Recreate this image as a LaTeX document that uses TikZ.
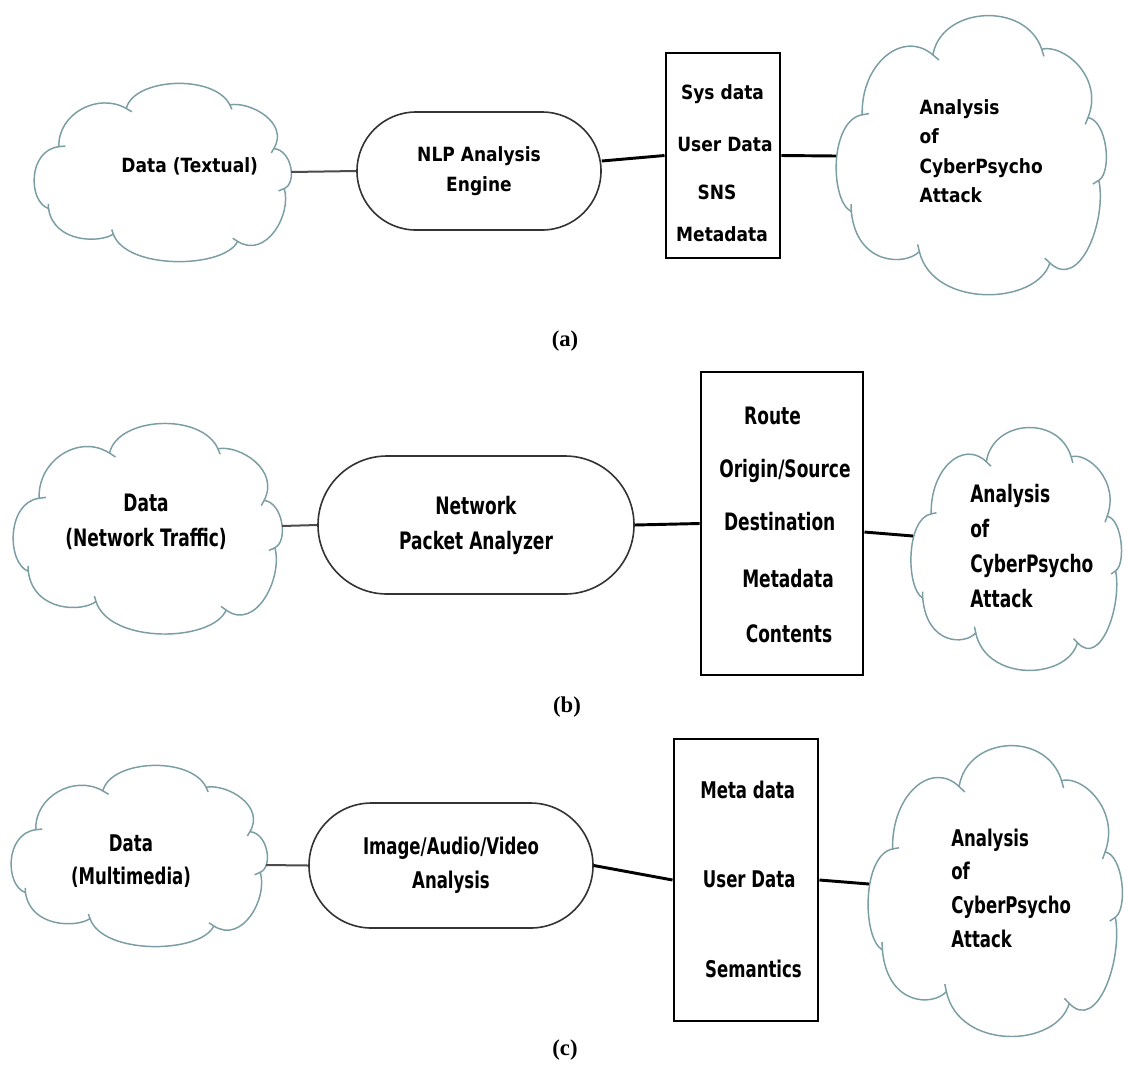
\documentclass[tikz,border=0pt]{standalone}
\usepackage{fontspec}
\setmainfont{DejaVu Sans}
\newfontfamily\fontpa{DejaVu Sans}[FakeStretch=0.87]
\newfontfamily\fontpb{DejaVu Sans}[FakeStretch=0.71]
\newfontfamily\fontpc{DejaVu Sans}[FakeStretch=0.72]
\newfontfamily\capfont{Liberation Serif}
\usetikzlibrary{shapes.misc}
\definecolor{cloudcol}{RGB}{122,158,163}
\tikzset{
  cloudline/.style={draw=cloudcol, line width=1.1pt, line join=round},
  stadbox/.style={rounded rectangle, draw=black!80, line width=1.2pt, inner sep=0pt, align=center},
  listbox/.style={rectangle, draw=black, line width=2.2pt, inner sep=0pt},
  thinlink/.style={draw=black!70, line width=1.5pt},
  thicklink/.style={draw=black, line width=2.2pt},
  ta/.style={font=\fontpa\bfseries\fontsize{14.7pt}{22.1pt}\selectfont, inner sep=0pt},
  tb/.style={font=\fontpb\bfseries\fontsize{18pt}{26.25pt}\selectfont, inner sep=0pt},
  tc/.style={font=\fontpc\bfseries\fontsize{17.25pt}{25.2pt}\selectfont, inner sep=0pt},
  capt/.style={font=\capfont\bfseries\fontsize{17pt}{20pt}\selectfont, inner sep=0pt}
}
% cloud outline: #1,#2 = top-left corner (px), #3,#4 = width, height (px)
\newcommand\cloudoutline[4]{%
  \begin{scope}[shift={(#1,#2)}]
  \begin{scope}[x=#3*0.75pt, y=-#4*0.75pt]
    \draw[cloudline] (0.10,0.35)
      .. controls (0.095,0.17) and (0.25,0.05) .. (0.36,0.14)
      .. controls (0.39,-0.03) and (0.70,-0.05) .. (0.76,0.12)
      .. controls (0.84,0.10) and (0.99,0.22) .. (0.93,0.36)
      .. controls (1.0,0.37) and (1.02,0.55) .. (0.97,0.58)
      .. controls (1.0,0.72) and (0.90,0.97) .. (0.79,0.87)
      .. controls (0.74,1.02) and (0.36,1.03) .. (0.31,0.83)
      .. controls (0.26,0.88) and (0.08,0.88) .. (0.06,0.69)
      .. controls (-0.02,0.65) and (-0.02,0.37) .. cycle;
    \draw[cloudline]
      (0.36,0.14) -- ++(0.022,0.018)
      (0.76,0.12) -- ++(0.008,0.025)
      (0.93,0.36) -- ++(-0.010,0.024)
      (0.97,0.58) -- ++(-0.022,0.013)
      (0.79,0.87) -- ++(-0.019,-0.017)
      (0.31,0.83) -- ++(-0.006,-0.025)
      (0.06,0.69) -- ++(-0.001,-0.026)
      (0.10,0.35) -- ++(0.025,-0.004);
  \end{scope}
  \end{scope}}
\begin{document}
\begin{tikzpicture}[x=0.75pt, y=-0.75pt]
\fill[white] (0,0) rectangle (1124,1086);
\useasboundingbox (0,0) rectangle (1124,1086);

% ================= (a) =================
\cloudoutline{33}{83}{259}{182}
\node[ta, anchor=base] (cA1) at (189.7,172.7) {Data (Textual)};
\node[stadbox, ta, minimum width=183pt, minimum height=88.5pt] (nlpA) at (479,171) {NLP Analysis\\Engine};
\node[listbox, minimum width=85.5pt, minimum height=153.75pt] (rectA) at (723,155.5) {};
\node[ta, anchor=base] (la1) at (722.5,99.3) {Sys data};
\node[ta, anchor=base] (la2) at (725,151.7) {User Data};
\node[ta, anchor=base] (la3) at (717,199.3) {SNS};
\node[ta, anchor=base] (la4) at (722,241.7) {Metadata};
\cloudoutline{835}{15}{272}{285}
\node[ta, anchor=north west, align=left] (cA2) at (919.3,99.1) {Analysis\\of\\CyberPsycho\\Attack};
\coordinate (cA1e) at (291,172);
\coordinate (cA2w) at (836,156);
\draw[thinlink] (cA1e) -- (nlpA.west);
\draw[thicklink] ([yshift=7.5pt]nlpA.east) -- (rectA.west);
\draw[thicklink] (rectA.east) -- (cA2w);
\node[capt] (capa) at (565,341) {(a)};

% ================= (b) =================
\cloudoutline{12}{423}{271}{215}
\node[tb, anchor=north, align=center] (cB1) at (146,494.2) {Data\\(Network Traffic)};
\node[stadbox, tb, minimum width=237pt, minimum height=103.5pt] (nlpB) at (476,525) {Network\\Packet Analyzer};
\node[listbox, minimum width=121.5pt, minimum height=227.25pt] (rectB) at (782,523.5) {};
\node[tb, anchor=base] (lb1) at (772.5,424) {Route};
\node[tb, anchor=base] (lb2) at (785,477.3) {Origin/Source};
\node[tb, anchor=base] (lb3) at (779.7,530) {Destination};
\node[tb, anchor=base] (lb4) at (788,587.3) {Metadata};
\node[tb, anchor=base] (lb5) at (789,642.7) {Contents};
\cloudoutline{910}{427}{212}{248}
\node[tb, anchor=north west, align=left] (cB2) at (970,483.5) {Analysis\\of\\CyberPsycho\\Attack};
\coordinate (cB1e) at (282,526);
\coordinate (cB2w) at (913,536);
\draw[thinlink] (cB1e) -- (nlpB.west);
\draw[thicklink] (nlpB.east) -- (rectB.west);
\draw[thicklink] ([yshift=-6.4pt]rectB.east) -- (cB2w);
\node[capt] (capb) at (567,707) {(b)};

% ================= (c) =================
\cloudoutline{10}{765}{258}{185}
\node[tc, anchor=north, align=center] (cC1) at (131,834.2) {Data\\(Multimedia)};
\node[stadbox, tc, minimum width=213pt, minimum height=93.75pt] (nlpC) at (451,865.5) {Image/Audio/Video\\Analysis};
\node[listbox, minimum width=108pt, minimum height=211.5pt] (rectC) at (746,880) {};
\node[tc, anchor=base] (lc1) at (747.7,798.3) {Meta data};
\node[tc, anchor=base] (lc2) at (749.2,887.3) {User Data};
\node[tc, anchor=base] (lc3) at (753.5,977.3) {Semantics};
\cloudoutline{867}{745}{256}{297}
\node[tc, anchor=north west, align=left] (cC2) at (951,828.5) {Analysis\\of\\CyberPsycho\\Attack};
\coordinate (cC1e) at (266,865);
\coordinate (cC2w) at (869,884);
\draw[thinlink] (cC1e) -- (nlpC.west);
\draw[thicklink] (nlpC.east) -- (rectC.west);
\draw[thicklink] (rectC.east) -- (cC2w);
\node[capt] (capc) at (565,1050) {(c)};
\end{tikzpicture}
\end{document}
